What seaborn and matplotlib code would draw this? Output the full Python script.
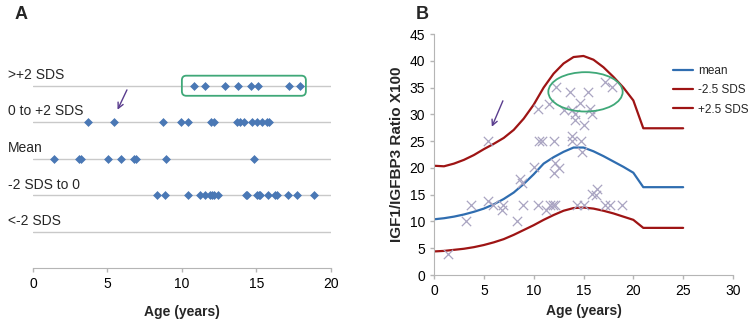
import matplotlib
matplotlib.use("Agg")
import matplotlib.pyplot as plt
import seaborn as sns
import pandas as pd
from matplotlib.patches import FancyBboxPatch, Ellipse

# ---- panel A: age per SDS category ----
categories = [">+2 SDS", "0 to +2 SDS", "Mean", "-2 SDS to 0", "<-2 SDS"]
levels = [5, 4, 3, 2, 1]
age_above2 = [10.82, 11.53, 12.9, 13.78, 14.62, 15.13, 17.17, 17.94]
age_0to2 = [3.67, 5.44, 8.76, 9.97, 10.4, 11.96, 12.19, 13.69, 13.92, 14.18,
            14.73, 15.06, 15.4, 15.73, 15.84]
age_mean = [1.42, 3.1, 3.2, 5.07, 5.88, 6.8, 6.95, 8.91, 14.86]
age_m2to0 = [8.34, 8.87, 10.42, 11.19, 11.57, 11.86, 12.03, 12.19, 12.41, 14.29,
             14.4, 15.02, 15.18, 15.28, 15.79, 16.28, 16.39, 17.12, 17.76, 18.87]
age_below2 = []

# ---- panel B: reference curves + patients ----
ref_age = [0, 1, 2, 3, 4, 5, 6, 7, 8, 9, 10, 11, 12, 13, 14, 15, 16, 17, 18, 19, 20, 21, 25]
ref_mean = [10.4, 10.6, 10.9, 11.3, 11.8, 12.4, 13.2, 14.2, 15.4, 17.0, 18.8, 20.8,
            22.0, 23.0, 23.8, 23.8, 23.1, 22.2, 21.2, 20.2, 19.1, 16.4, 16.4]
ref_upper = [20.4, 20.3, 20.8, 21.5, 22.4, 23.5, 24.5, 25.6, 27.1, 29.2, 31.8, 35.0,
             37.6, 39.5, 40.7, 40.9, 40.2, 38.8, 37.0, 35.0, 32.6, 27.4, 27.4]
ref_lower = [4.4, 4.5, 4.7, 4.9, 5.2, 5.6, 6.1, 6.7, 7.5, 8.4, 9.3, 10.3,
             11.2, 12.0, 12.5, 12.6, 12.4, 12.0, 11.5, 10.9, 10.3, 8.8, 8.8]
pt_age = [1.4, 3.2, 3.7, 5.45, 5.9, 6.8, 6.95, 8.35, 8.6, 8.8, 8.9, 10.0, 10.4, 11.2,
          11.6, 11.9, 12.1, 12.0, 12.1, 12.5, 14.3, 15.0, 14.8, 15.9, 16.3, 16.4,
          17.15, 17.7, 18.9,
          5.45, 10.4, 10.5, 10.8, 11.5, 12.0, 12.2, 13.0, 13.6, 13.8, 13.8, 13.85,
          14.1, 14.1, 14.6, 14.7, 15.1, 15.5, 15.7, 15.9, 17.15, 17.9]
pt_ratio = [3.9, 10.0, 13.1, 13.9, 13.1, 12.1, 13.1, 10.1, 17.9, 17.1, 13.0, 20.1, 13.0, 12.1,
            13.1, 13.1, 13.1, 19.0, 20.9, 20.0, 13.0, 13.0, 23.0, 15.1, 15.0, 16.0,
            13.0, 13.0, 13.0,
            25.1, 31.0, 25.1, 25.1, 32.0, 25.1, 35.1, 30.9, 34.1, 30.9, 26.0, 25.1,
            30.0, 28.9, 32.1, 25.1, 28.0, 34.1, 31.0, 30.1, 36.0, 35.1]

sns.set_style("white")
plt.rcParams["font.family"] = ["Liberation Sans", "DejaVu Sans"]

BLUE_DOT = "#4a78b5"
GRID = "#c9c9c9"
AX = "#b5b5b5"
GREEN = "#3fa878"
PURPLE = "#5a3d8e"

fig = plt.figure(figsize=(7.5, 3.23), dpi=100)
axA = fig.add_axes([0.044, 0.1693, 0.397, 0.679])
axB = fig.add_axes([0.5787, 0.1486, 0.3986, 0.7461])

# ---------- A ----------
groups = [age_above2, age_0to2, age_mean, age_m2to0, age_below2]
rows = []
for lvl, ages in zip(levels, groups):
    for a in ages:
        rows.append({"age": a, "level": lvl})
dfA = pd.DataFrame(rows)

for lvl, name in zip(levels, categories):
    axA.axhline(lvl, color=GRID, lw=1, zorder=0)
    axA.text(-1.66, lvl + 0.1, name, fontsize=10, ha="left", va="bottom", clip_on=False)

sns.scatterplot(data=dfA, x="age", y="level", ax=axA, marker="D", s=16,
                color=BLUE_DOT, edgecolor=BLUE_DOT, linewidth=0.5, zorder=3)

axA.set_xlim(0, 20)
axA.set_ylim(0, 6)
axA.set_xticks([0, 5, 10, 15, 20])
axA.set_yticks([])
axA.set_ylabel("")
axA.set_xlabel("Age (years)", fontsize=10, fontweight="bold", labelpad=10)
for s in ["top", "right", "left"]:
    axA.spines[s].set_visible(False)
axA.spines["bottom"].set_color(AX)
axA.tick_params(axis="x", colors=AX, labelcolor="black", labelsize=10,
                direction="out", length=3, width=1, bottom=True)

boxA = FancyBboxPatch((10.0, 4.72), 8.33, 0.55,
                      boxstyle="round,pad=0,rounding_size=0.3",
                      mutation_aspect=0.413, fill=False, ec=GREEN, lw=1.3, zorder=4)
axA.add_patch(boxA)
axA.annotate("", xy=(5.6, 4.27), xytext=(6.39, 4.95),
             arrowprops=dict(arrowstyle="->", color=PURPLE, lw=1))

# ---------- B ----------
dfB = pd.DataFrame({"age": ref_age, "mean": ref_mean,
                    "-2.5 SDS": ref_upper, "+2.5 SDS": ref_lower})
sns.lineplot(data=dfB, x="age", y="mean", ax=axB, color="#2f6db0", lw=1.6, label="mean")
sns.lineplot(data=dfB, x="age", y="-2.5 SDS", ax=axB, color="#9e1414", lw=1.6, label="-2.5 SDS")
sns.lineplot(data=dfB, x="age", y="+2.5 SDS", ax=axB, color="#9e1414", lw=1.6, label="+2.5 SDS")

sns.scatterplot(x=pt_age, y=pt_ratio, ax=axB, marker="x", s=45, color="#aaa4c2",
                linewidth=0.9, zorder=2, legend=False)

axB.add_patch(Ellipse((15.2, 34.2), 7.46, 7.35, fill=False, ec=GREEN, lw=1.3, zorder=4))
axB.annotate("", xy=(5.69, 27.2), xytext=(7.02, 33.0),
             arrowprops=dict(arrowstyle="->", color=PURPLE, lw=1))

axB.set_xlim(0, 30)
axB.set_ylim(0, 45)
axB.set_xticks(range(0, 31, 5))
axB.set_yticks(range(0, 46, 5))
axB.set_xlabel("Age (years)", fontsize=10, fontweight="bold", labelpad=4)
axB.set_ylabel("IGF1/IGFBP3 Ratio X100", fontsize=11, fontweight="bold", labelpad=4)
for s in ["top", "right"]:
    axB.spines[s].set_visible(False)
for s in ["left", "bottom"]:
    axB.spines[s].set_color(AX)
axB.tick_params(axis="both", colors=AX, labelcolor="black", labelsize=10,
                direction="out", length=3, width=1, left=True, bottom=True)

leg = axB.legend(loc="upper left", bbox_to_anchor=(0.80, 0.87), frameon=False,
                 fontsize=8.5, handlelength=1.7, labelspacing=0.6, handletextpad=0.4,
                 borderpad=0, borderaxespad=0)

fig.text(0.019, 0.955, "A", fontsize=13, fontweight="bold", va="center")
fig.text(0.554, 0.955, "B", fontsize=13, fontweight="bold", va="center")

fig.savefig("out.png", dpi=100)
plt.close(fig)
